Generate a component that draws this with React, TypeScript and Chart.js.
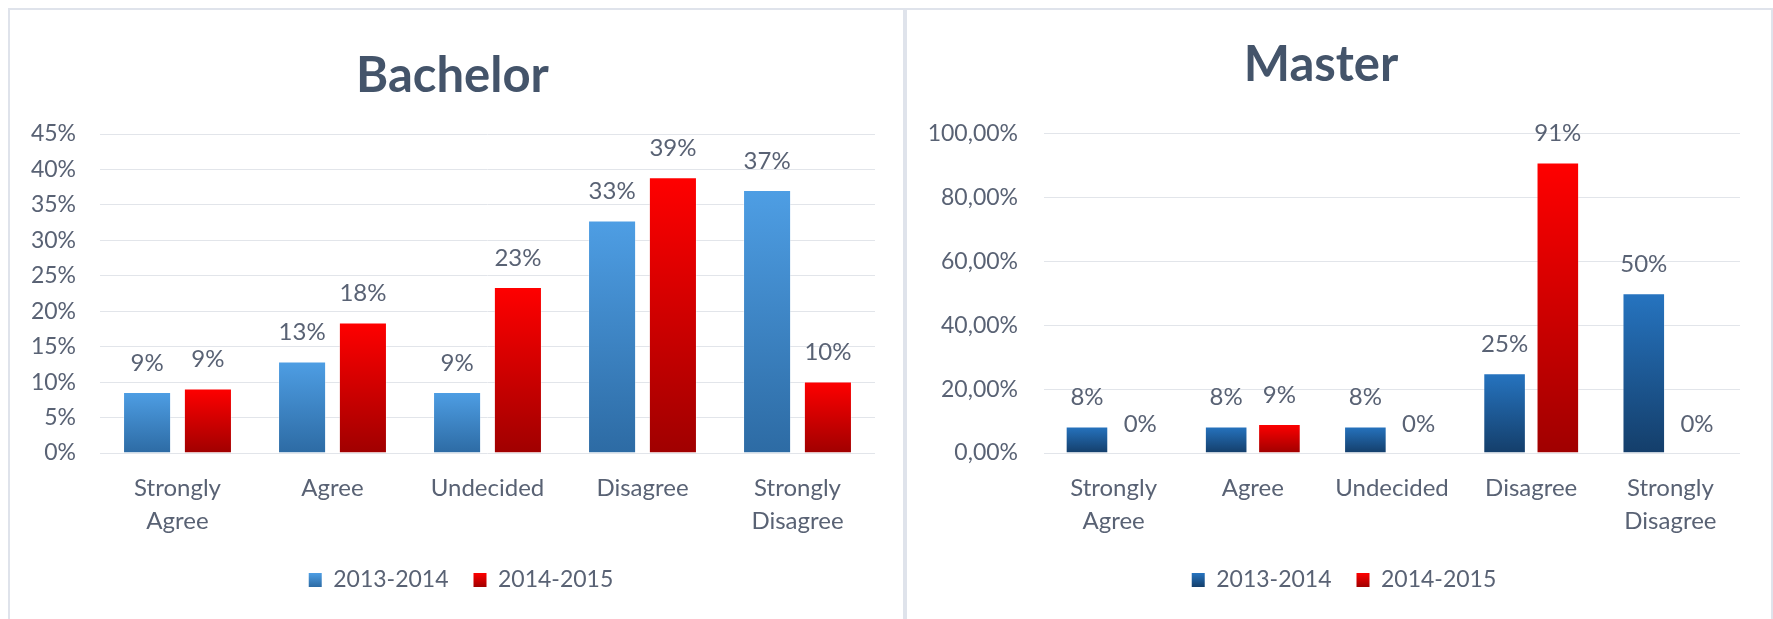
import React, { useEffect, useRef } from 'react';
import { Chart, registerables } from 'chart.js';

Chart.register(...registerables);

// ---------- data ----------
const categories: (string | string[])[] = [
  ['Strongly', 'Agree'],
  'Agree',
  'Undecided',
  'Disagree',
  ['Strongly', 'Disagree'],
];
const seriesNames = ['2013-2014', '2014-2015'];

const bachelor2013 = [8.6, 12.9, 8.6, 32.8, 37.1];
const bachelor2014 = [9.1, 18.4, 23.4, 38.9, 10.1];

const master2013 = [8.33, 8.33, 8.33, 25.0, 50.0];
const master2014 = [0, 9.09, 0, 90.91, 0];

const bachelorYTicks = [0, 5, 10, 15, 20, 25, 30, 35, 40, 45];
const masterYTicks = [0, 20, 40, 60, 80, 100];

// ---------- styles ----------
const TEXT = '#596274';
const TITLE = '#44546A';
const GRID = '#e2e5ea';
const BORDER = '#dfe3eb';
const FONT = 'Lato';
const LEGEND_FONT = 23;
const LEGEND_PAD = 25;
const RED: [string, string, string] = ['#ff0000', '#a00000', '#e00000'];

function barGradient(top: string, bottom: string, solid: string) {
  return (ctx: any) => {
    const chart = ctx.chart;
    const y = chart.scales && chart.scales.y;
    if (ctx.type !== 'data' || !y) return solid;
    const v = ctx.raw as number;
    const y0 = y.getPixelForValue(0);
    const y1 = y.getPixelForValue(v);
    if (!isFinite(y0) || !isFinite(y1) || Math.abs(y0 - y1) < 1) return solid;
    const g = chart.ctx.createLinearGradient(0, y1, 0, y0);
    g.addColorStop(0, top);
    g.addColorStop(1, bottom);
    return g;
  };
}

const valueLabels = {
  id: 'valueLabels',
  afterDatasetsDraw(chart: any) {
    const c = chart.ctx;
    c.save();
    c.font = `24px ${FONT}`;
    c.fillStyle = TEXT;
    c.textAlign = 'center';
    c.textBaseline = 'middle';
    chart.data.datasets.forEach((ds: any, i: number) => {
      const meta = chart.getDatasetMeta(i);
      meta.data.forEach((bar: any, j: number) => {
        const v = ds.data[j] as number;
        c.fillText(Math.round(v) + '%', bar.x, bar.y - 29);
      });
    });
    c.restore();
  },
};

// shifts the title / legend horizontally after Chart.js has laid them out
const boxShift = {
  id: 'boxShift',
  afterLayout(chart: any, _args: any, opts: any) {
    const t = chart.titleBlock;
    if (t && opts.titleDx) {
      t.left += opts.titleDx;
      t.right += opts.titleDx;
    }
    const lg = chart.legend;
    if (lg && opts.legendDx) {
      lg.left += opts.legendDx;
      lg.right += opts.legendDx;
    }
  },
};

interface PanelCfg {
  title: string;
  a: number[];
  b: number[];
  ticks: number[];
  fmt: (v: number) => string;
  blue: [string, string, string];
  catPct: number;
  barPct: number;
  pad: { top: number; bottom: number; left: number; right: number };
  titlePad: { top: number; bottom: number };
  yWidth: number;
  yPad: number;
  titleDx: number;
  legendDx: number;
}

function makeConfig(p: PanelCfg): any {
  const legendCols = [p.blue, RED];
  return {
    type: 'bar',
    data: {
      labels: categories,
      datasets: [
        {
          label: seriesNames[0],
          data: p.a,
          backgroundColor: barGradient(p.blue[0], p.blue[1], p.blue[2]),
          borderColor: 'rgba(255,255,255,0.35)',
          borderWidth: 1,
          categoryPercentage: p.catPct,
          barPercentage: p.barPct,
        },
        {
          label: seriesNames[1],
          data: p.b,
          backgroundColor: barGradient(RED[0], RED[1], RED[2]),
          borderColor: 'rgba(255,255,255,0.35)',
          borderWidth: 1,
          categoryPercentage: p.catPct,
          barPercentage: p.barPct,
        },
      ],
    },
    options: {
      responsive: false,
      animation: false,
      layout: { padding: p.pad },
      plugins: {
        title: {
          display: true,
          text: p.title,
          color: TITLE,
          font: { family: FONT, size: 49, weight: 'bold', lineHeight: 1.2 },
          padding: p.titlePad,
        },
        legend: {
          position: 'bottom',
          labels: {
            boxWidth: 13,
            boxHeight: 14,
            padding: LEGEND_PAD,
            color: TEXT,
            font: { family: FONT, size: LEGEND_FONT },
            generateLabels: (chart: any) => {
              const items = (Chart as any).defaults.plugins.legend.labels.generateLabels(chart);
              const lg = chart.legend;
              if (lg && isFinite(lg.top)) {
                const cy = lg.top + LEGEND_PAD + LEGEND_FONT / 2;
                items.forEach((it: any, i: number) => {
                  const cols = legendCols[i];
                  if (!cols) return;
                  const g = chart.ctx.createLinearGradient(0, cy - 7, 0, cy + 7);
                  g.addColorStop(0, cols[0]);
                  g.addColorStop(1, cols[1]);
                  it.fillStyle = g;
                  it.lineWidth = 0;
                });
              }
              return items;
            },
          },
        },
        tooltip: { enabled: false },
        boxShift: { titleDx: p.titleDx, legendDx: p.legendDx },
      },
      scales: {
        x: {
          grid: { display: false, drawTicks: false },
          border: { display: false },
          ticks: {
            color: TEXT,
            font: { family: FONT, size: 24, lineHeight: 1.375 },
            padding: 18.5,
            maxRotation: 0,
            autoSkip: false,
          },
          afterFit: (s: any) => {
            s.height = 90.5;
          },
        },
        y: {
          min: p.ticks[0],
          max: p.ticks[p.ticks.length - 1],
          ticks: {
            stepSize: p.ticks[1] - p.ticks[0],
            callback: (v: any) => p.fmt(Number(v)),
            color: TEXT,
            font: { family: FONT, size: 23 },
            padding: p.yPad,
          },
          grid: { color: GRID, drawTicks: false, lineWidth: 1 },
          border: { display: false },
          afterFit: (s: any) => {
            s.width = p.yWidth;
          },
        },
      },
    },
    plugins: [valueLabels, boxShift],
  };
}

function Panel({ cfg, width, height }: { cfg: PanelCfg; width: number; height: number }) {
  const ref = useRef<HTMLCanvasElement>(null);
  useEffect(() => {
    if (!ref.current) return;
    const chart = new Chart(ref.current, makeConfig(cfg));
    return () => chart.destroy();
  }, []);
  return (
    <div
      style={{
        width,
        height,
        border: `2px solid ${BORDER}`,
        background: '#fff',
        flex: 'none',
      }}
    >
      <canvas ref={ref} width={width} height={height} style={{ display: 'block', width, height }} />
    </div>
  );
}

const bachelorCfg: PanelCfg = {
  title: 'Bachelor',
  a: bachelor2013,
  b: bachelor2014,
  ticks: bachelorYTicks,
  fmt: (v) => `${v}%`,
  blue: ['#4e9ee4', '#2d6ba4', '#3d85c6'],
  catPct: 0.785,
  barPct: 0.79,
  pad: { top: 17, bottom: 19.5, left: 20, right: 28 },
  titlePad: { top: 19.4, bottom: 28.8 },
  yWidth: 70,
  yPad: 24,
  titleDx: 0,
  legendDx: 8.5,
};

const masterCfg: PanelCfg = {
  title: 'Master',
  a: master2013,
  b: master2014,
  ticks: masterYTicks,
  fmt: (v) => `${v.toFixed(2).replace('.', ',')}%`,
  blue: ['#2674c0', '#143e6a', '#1f5a96'],
  catPct: 0.765,
  barPct: 0.8,
  pad: { top: 17, bottom: 19.5, left: 20, right: 31 },
  titlePad: { top: 8.6, bottom: 39.1 },
  yWidth: 117,
  yPad: 26,
  titleDx: -12.5,
  legendDx: 10.5,
};

export default function App() {
  useEffect(() => {
    document.documentElement.style.overflow = 'hidden';
    document.body.style.overflow = 'hidden';
  }, []);
  return (
    <div style={{ position: 'absolute', left: 8, top: 8, display: 'flex', background: '#fff' }}>
      <Panel cfg={bachelorCfg} width={893} height={611} />
      <Panel cfg={masterCfg} width={864} height={611} />
    </div>
  );
}
